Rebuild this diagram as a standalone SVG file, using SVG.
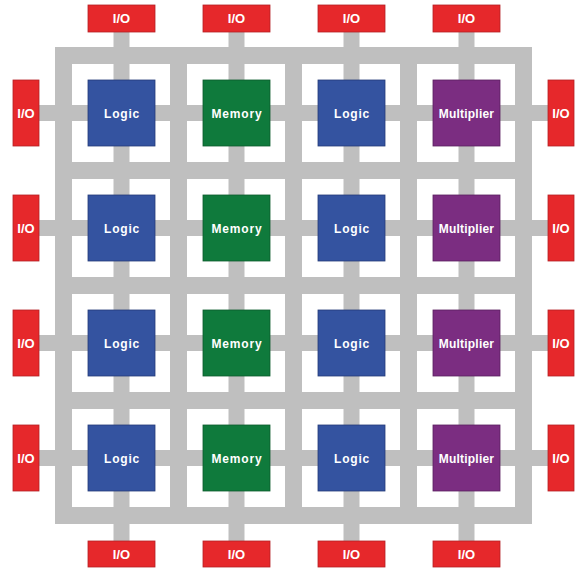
<svg xmlns="http://www.w3.org/2000/svg" width="580" height="570" viewBox="0 0 580 570">
<style>
.bus{stroke:#bfbfbf;stroke-width:17;fill:none}
.stub{stroke:#bfbfbf;stroke-width:16;fill:none}
.io rect{fill:#e6282b;stroke:#b52025;stroke-width:0.8}
.logic rect{fill:#3453a0;stroke:#233a78;stroke-width:0.8}
.mem rect{fill:#0f7a3c;stroke:#0a5a2b;stroke-width:0.8}
.mul rect{fill:#7b2d81;stroke:#5a1f5f;stroke-width:0.8}
text{fill:#fff;font-family:"Liberation Sans",Arial,sans-serif;font-weight:bold;text-anchor:middle}
.io text{font-size:13px}
.logic text,.mem text{font-size:12px;letter-spacing:0.8px}
.mul text{font-size:12px;letter-spacing:0.2px}
</style>
<rect width="580" height="570" fill="#fff"/>
<g id="connectors">
<path class="bus" d="M55 55.5H532M55 170.5H532M55 285.5H532M55 400.5H532M55 515.5H532"/>
<path class="bus" d="M63.5 47V524M178.5 47V524M293.5 47V524M408.5 47V524M523.5 47V524"/>
<path class="stub" d="M39 113H548M39 228H548M39 343H548M39 458H548"/>
<path class="stub" d="M121.5 32V541M236.5 32V541M351.5 32V541M466.5 32V541"/>
</g>
<g id="io-top-1" class="io"><rect x="88" y="5" width="67" height="27"/><text x="121.5" y="23">I/O</text></g>
<g id="io-top-2" class="io"><rect x="203" y="5" width="67" height="27"/><text x="236.5" y="23">I/O</text></g>
<g id="io-top-3" class="io"><rect x="318" y="5" width="67" height="27"/><text x="351.5" y="23">I/O</text></g>
<g id="io-top-4" class="io"><rect x="433" y="5" width="67" height="27"/><text x="466.5" y="23">I/O</text></g>
<g id="io-bot-1" class="io"><rect x="88" y="541" width="67" height="26"/><text x="121.5" y="559">I/O</text></g>
<g id="io-bot-2" class="io"><rect x="203" y="541" width="67" height="26"/><text x="236.5" y="559">I/O</text></g>
<g id="io-bot-3" class="io"><rect x="318" y="541" width="67" height="26"/><text x="351.5" y="559">I/O</text></g>
<g id="io-bot-4" class="io"><rect x="433" y="541" width="67" height="26"/><text x="466.5" y="559">I/O</text></g>
<g id="io-left-1" class="io"><rect x="13" y="80" width="26" height="66"/><text x="26" y="118">I/O</text></g>
<g id="io-left-2" class="io"><rect x="13" y="195" width="26" height="66"/><text x="26" y="233">I/O</text></g>
<g id="io-left-3" class="io"><rect x="13" y="310" width="26" height="66"/><text x="26" y="348">I/O</text></g>
<g id="io-left-4" class="io"><rect x="13" y="425" width="26" height="66"/><text x="26" y="463">I/O</text></g>
<g id="io-right-1" class="io"><rect x="548" y="80" width="26" height="66"/><text x="561" y="118">I/O</text></g>
<g id="io-right-2" class="io"><rect x="548" y="195" width="26" height="66"/><text x="561" y="233">I/O</text></g>
<g id="io-right-3" class="io"><rect x="548" y="310" width="26" height="66"/><text x="561" y="348">I/O</text></g>
<g id="io-right-4" class="io"><rect x="548" y="425" width="26" height="66"/><text x="561" y="463">I/O</text></g>
<g id="logic-1-1" class="logic"><rect x="88" y="80" width="67" height="66"/><text x="122" y="118">Logic</text></g>
<g id="mem-1-2" class="mem"><rect x="203" y="80" width="67" height="66"/><text x="237" y="118">Memory</text></g>
<g id="logic-1-3" class="logic"><rect x="318" y="80" width="67" height="66"/><text x="352" y="118">Logic</text></g>
<g id="mul-1-4" class="mul"><rect x="433" y="80" width="67" height="66"/><text x="466.5" y="118">Multiplier</text></g>
<g id="logic-2-1" class="logic"><rect x="88" y="195" width="67" height="66"/><text x="122" y="233">Logic</text></g>
<g id="mem-2-2" class="mem"><rect x="203" y="195" width="67" height="66"/><text x="237" y="233">Memory</text></g>
<g id="logic-2-3" class="logic"><rect x="318" y="195" width="67" height="66"/><text x="352" y="233">Logic</text></g>
<g id="mul-2-4" class="mul"><rect x="433" y="195" width="67" height="66"/><text x="466.5" y="233">Multiplier</text></g>
<g id="logic-3-1" class="logic"><rect x="88" y="310" width="67" height="66"/><text x="122" y="348">Logic</text></g>
<g id="mem-3-2" class="mem"><rect x="203" y="310" width="67" height="66"/><text x="237" y="348">Memory</text></g>
<g id="logic-3-3" class="logic"><rect x="318" y="310" width="67" height="66"/><text x="352" y="348">Logic</text></g>
<g id="mul-3-4" class="mul"><rect x="433" y="310" width="67" height="66"/><text x="466.5" y="348">Multiplier</text></g>
<g id="logic-4-1" class="logic"><rect x="88" y="425" width="67" height="66"/><text x="122" y="463">Logic</text></g>
<g id="mem-4-2" class="mem"><rect x="203" y="425" width="67" height="66"/><text x="237" y="463">Memory</text></g>
<g id="logic-4-3" class="logic"><rect x="318" y="425" width="67" height="66"/><text x="352" y="463">Logic</text></g>
<g id="mul-4-4" class="mul"><rect x="433" y="425" width="67" height="66"/><text x="466.5" y="463">Multiplier</text></g>
</svg>
